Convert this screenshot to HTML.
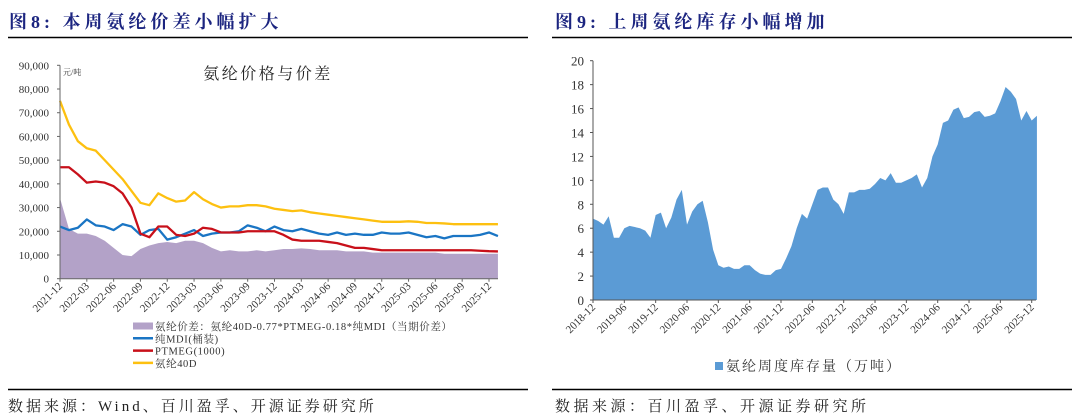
<!DOCTYPE html>
<html><head><meta charset="utf-8">
<style>
body{margin:0;background:#fff;width:1080px;height:420px;overflow:hidden}
svg{display:block}
.t{font-family:"Liberation Serif","Noto Serif CJK SC",serif}
</style></head>
<body>
<svg id="s" width="1080" height="420" xmlns="http://www.w3.org/2000/svg">
<text x="9" y="28" class="t" font-size="18" font-weight="bold" fill="#1c2580" letter-spacing="4">图8:  本周氨纶价差小幅扩大</text>
<line x1="8" y1="37.5" x2="528" y2="37.5" stroke="#000" stroke-width="1.5"/>
<text x="555" y="28" class="t" font-size="18" font-weight="bold" fill="#1c2580" letter-spacing="4">图9:  上周氨纶库存小幅增加</text>
<line x1="552" y1="37.5" x2="1072" y2="37.5" stroke="#000" stroke-width="1.5"/>
<line x1="8" y1="389.5" x2="528" y2="389.5" stroke="#000" stroke-width="1.5"/>
<line x1="552" y1="389.5" x2="1072" y2="389.5" stroke="#000" stroke-width="1.5"/>
<text x="8" y="411" class="t" font-size="15" fill="#222" letter-spacing="3">数据来源：Wind、百川盈孚、开源证券研究所</text>
<text x="555" y="411" class="t" font-size="15" fill="#222" letter-spacing="3.5">数据来源：百川盈孚、开源证券研究所</text>
<g id="L"></g><g id="R"></g>
</svg>
<script>
// Left chart data (monthly, 2021-12 .. 2026-01)
const leftSpread=[34000,21000,19000,19000,18000,16000,13000,10000,9500,12500,14000,15000,15500,15000,16000,16000,15000,13000,11500,12000,11500,11500,12000,11500,12000,12500,12500,12800,12500,12000,12000,12000,11500,11500,11500,11000,11000,11000,11000,11000,11000,11000,11000,10500,10500,10500,10500,10500,10500,10500];
const leftMDI=[22000,20500,21500,25000,22500,22000,20500,23000,22000,18500,20500,21000,16500,17500,19000,20500,18000,19000,19500,19500,20000,22500,21500,20000,22000,20500,20000,21000,20000,19000,18500,19500,18500,19000,18500,18500,19500,19000,19000,19500,18500,17500,18000,17000,18000,18000,18000,18500,19500,18000];
const leftPTMEG=[47000,47000,44000,40500,41000,40500,39000,36000,30000,19000,17500,22000,22000,18500,18000,19000,21500,21000,19500,19500,19500,20000,20000,20000,20000,18500,16500,16000,16000,16000,15500,15000,14000,13000,13000,12500,12000,12000,12000,12000,12000,12000,12000,12000,12000,12000,12000,11800,11600,11500];
const left40D=[75000,65000,58000,55000,54000,50000,46000,42000,37000,32000,31000,36000,34000,32500,33000,36500,33500,31500,30000,30500,30500,31000,31000,30500,29500,29000,28500,28800,28000,27500,27000,26500,26000,25500,25000,24500,24000,24000,24000,24200,24000,23500,23500,23300,23000,23000,23000,23000,23000,23000];
const leftYTicks=[0,10000,20000,30000,40000,50000,60000,70000,80000,90000];
const leftXTicks=["2021-12","2022-03","2022-06","2022-09","2022-12","2023-03","2023-06","2023-09","2023-12","2024-03","2024-06","2024-09","2024-12","2025-03","2025-06","2025-09","2025-12"];
// Right chart data (monthly, 2018-12 .. 2026-01)
const rightStock=[6.8,
6.6,6.3,7.0,5.2,5.2,6.0,6.2,6.1,6.0,5.8,5.2,7.1,
7.3,6.0,6.9,8.4,9.2,6.3,7.4,8.0,8.3,6.5,4.2,2.9,
2.7,2.8,2.6,2.6,2.9,2.9,2.5,2.2,2.1,2.1,2.5,2.6,
3.5,4.5,6.0,7.2,6.8,8.0,9.2,9.4,9.4,8.4,8.0,7.2,
9.0,9.0,9.2,9.2,9.3,9.7,10.2,10.0,10.6,9.8,9.8,10.0,
10.2,10.5,9.4,10.2,12.0,13.0,14.8,15.0,15.9,16.1,15.2,15.3,
15.7,15.8,15.3,15.4,15.6,16.6,17.8,17.4,16.8,15.0,15.8,15.0,
15.4];
const rightYTicks=[0,2,4,6,8,10,12,14,16,18,20];
const rightXTicks=["2018-12","2019-06","2019-12","2020-06","2020-12","2021-06","2021-12","2022-06","2022-12","2023-06","2023-12","2024-06","2024-12","2025-06","2025-12"];

const NS="http://www.w3.org/2000/svg";
function mk(p,t,a){const e=document.createElementNS(NS,t);for(const k in a)e.setAttribute(k,a[k]);p.appendChild(e);return e;}

// ---- Left chart
const L=document.getElementById('L');
const lx0=60,lx1=498,ly0=278.7,ly1=65.3,lmon=(489-60)/48;
const lX=i=>lx0+i*lmon, lY=v=>ly0-(v/90000)*(ly0-ly1);
let d='M'+lX(0)+' '+ly0;
leftSpread.forEach((v,i)=>{d+=' L'+lX(i)+' '+lY(v);});
d+=' L'+lX(leftSpread.length-1)+' '+ly0+' Z';
let e=mk(L,'path',{d:d,fill:'#b3a2c8'});


function line(arr,col,name){let p='';arr.forEach((v,i)=>{p+=(i?' L':'M')+lX(i)+' '+lY(v);});
 const el=mk(L,'path',{d:p,fill:'none',stroke:col,'stroke-width':2.3,'stroke-linejoin':'round'});
 
 }
line(leftMDI,'#1a75c4','mdi-line');
line(leftPTMEG,'#c8101a','ptmeg-line');
line(left40D,'#fdc010','spandex-40d-line');
e=mk(L,'line',{x1:lx0,y1:ly0,x2:lx1,y2:ly0,stroke:'#666','stroke-width':1});


e=mk(L,'line',{x1:lx0,y1:ly0,x2:lx0,y2:ly1,stroke:'#666','stroke-width':1});


leftYTicks.forEach(v=>{
 const t=mk(L,'text',{x:49,y:lY(v)+4,'text-anchor':'end','font-size':11,class:'t',fill:'#333'});
 t.textContent=v.toLocaleString('en-US');
 
 
 const k=mk(L,'line',{x1:lx0-3,y1:lY(v),x2:lx0,y2:lY(v),stroke:'#666'});
 
 
});
leftXTicks.forEach((s,i)=>{
 const x=lX(i*3);
 const t=mk(L,'text',{x:x+3,y:ly0+8,'text-anchor':'end','font-size':11,class:'t',fill:'#333',transform:'rotate(-45 '+(x+3)+' '+(ly0+8)+')'});
 t.textContent=s;
 
 
 const k=mk(L,'line',{x1:x,y1:ly0,x2:x,y2:ly0+3,stroke:'#666'});
 
 
});
e=mk(L,'text',{x:268,y:79,'text-anchor':'middle','font-size':16,'letter-spacing':2.5,class:'t',fill:'#222'});
e.textContent='氨纶价格与价差';


e=mk(L,'text',{x:63,y:75,'font-size':8,class:'t',fill:'#333'});
e.textContent='元/吨';


const leg=[['rect','#b3a2c8','氨纶价差：氨纶40D-0.77*PTMEG-0.18*纯MDI（当期价差）'],['line','#1a75c4','纯MDI(桶装)'],['line','#c8101a','PTMEG(1000)'],['line','#fdc010','氨纶40D']];
leg.forEach((g,i)=>{
 const y=326+i*12.3;
 const grp=mk(L,'g',{});
 
 
 if(g[0]=='rect')mk(grp,'rect',{x:133,y:y-3.5,width:20,height:7,fill:g[1]});
 else mk(grp,'line',{x1:133,y1:y,x2:153,y2:y,stroke:g[1],'stroke-width':2.5});
 const t=mk(grp,'text',{x:155,y:y+4,'font-size':10.5,'letter-spacing':0.6,class:'t',fill:'#333'});t.textContent=g[2];
});

// ---- Right chart
const R=document.getElementById('R');
const rx0=593,ry0=300,ry1=60.7,rmon=(1031.7-593)/84;
const rX=i=>rx0+i*rmon, rY=v=>ry0-(v/20)*(ry0-ry1);
d='M'+rX(0)+' '+ry0;
rightStock.forEach((v,i)=>{d+=' L'+rX(i)+' '+rY(v);});
d+=' L'+rX(rightStock.length-1)+' '+ry0+' Z';
e=mk(R,'path',{d:d,fill:'#5b9bd5'});


e=mk(R,'line',{x1:rx0,y1:ry0,x2:1036,y2:ry0,stroke:'#555','stroke-width':1});


e=mk(R,'line',{x1:rx0,y1:ry0,x2:rx0,y2:ry1,stroke:'#555','stroke-width':1});


rightYTicks.forEach(v=>{
 const t=mk(R,'text',{x:584,y:rY(v)+5,'text-anchor':'end','font-size':13,class:'t',fill:'#333'});
 t.textContent=v;
 
 
 const k=mk(R,'line',{x1:rx0-3,y1:rY(v),x2:rx0,y2:rY(v),stroke:'#555'});
 
 
});
rightXTicks.forEach((s,i)=>{
 const x=rX(i*6);
 const t=mk(R,'text',{x:x+3,y:ry0+8,'text-anchor':'end','font-size':11,class:'t',fill:'#333',transform:'rotate(-45 '+(x+3)+' '+(ry0+8)+')'});
 t.textContent=s;
 
 
 const k=mk(R,'line',{x1:x,y1:ry0,x2:x,y2:ry0+3,stroke:'#555'});
 
 
});
const rl=mk(R,'g',{});


mk(rl,'rect',{x:715,y:362,width:8,height:8,fill:'#5b9bd5'});
e=mk(rl,'text',{x:726,y:371,'font-size':14,'letter-spacing':2,class:'t',fill:'#333'});
e.textContent='氨纶周度库存量（万吨）';
</script>
</body></html>
